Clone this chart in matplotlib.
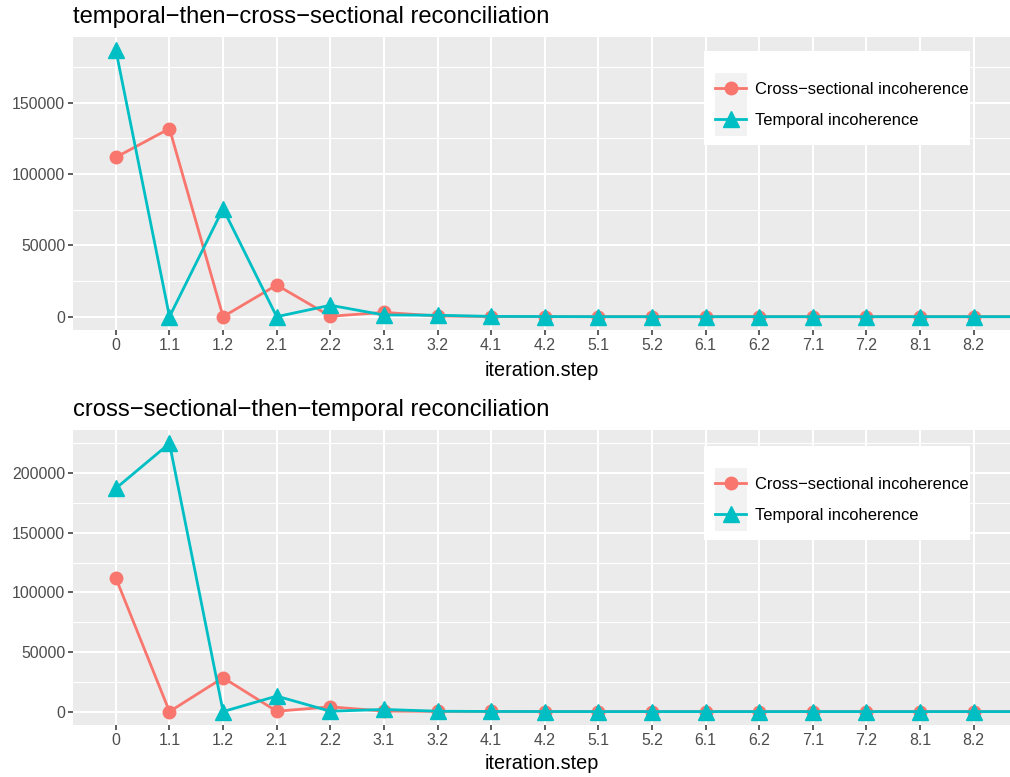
import matplotlib
matplotlib.use("Agg")
import matplotlib.pyplot as plt
from matplotlib.ticker import FixedLocator, FuncFormatter
from matplotlib.patches import Rectangle
from matplotlib.lines import Line2D

plt.rcParams['font.family'] = ['Liberation Sans', 'DejaVu Sans']

# iteration steps (last one runs off the right edge of the panel)
steps = ["0", "1.1", "1.2", "2.1", "2.2", "3.1", "3.2", "4.1", "4.2",
         "5.1", "5.2", "6.1", "6.2", "7.1", "7.2", "8.1", "8.2", "9.1"]

# temporal-then-cross-sectional
tcs_cross = [111800, 131900, 0, 22200, 300, 3000, 500, 100, 50,
             0, 0, 0, 0, 0, 0, 0, 0, 0]
tcs_temp = [186800, 0, 75700, 0, 8000, 1200, 1000, 200, 100,
            0, 0, 0, 0, 0, 0, 0, 0, 0]

# cross-sectional-then-temporal
cst_cross = [112000, 0, 28400, 300, 4000, 400, 200, 100, 50,
             0, 0, 0, 0, 0, 0, 0, 0, 0]
cst_temp = [187300, 225000, 0, 13000, 300, 1800, 300, 100, 50,
            0, 0, 0, 0, 0, 0, 0, 0, 0]

titles = ["temporal\u2212then\u2212cross\u2212sectional reconciliation",
          "cross\u2212sectional\u2212then\u2212temporal reconciliation"]
yticks_top = [0, 50000, 100000, 150000]
yticks_bot = [0, 50000, 100000, 150000, 200000]
labels = ["Cross\u2212sectional incoherence", "Temporal incoherence"]

RED = "#F8766D"
CYAN = "#00BFC4"
W, H = 1010, 777

fig = plt.figure(figsize=(W / 100, H / 100), dpi=100)


def panel(top_px, bot_px, cross, temp, title, yticks, leg_top_px, leg_bot_px, xlab_pad):
    ax = fig.add_axes([73 / W, 1 - bot_px / H, (W - 73) / W, (bot_px - top_px) / H])
    ax.set_facecolor("#EBEBEB")
    x = list(range(len(steps)))
    ax.plot(x, cross, color=RED, lw=2.0, marker="o", ms=9, zorder=3)
    ax.plot(x, temp, color=CYAN, lw=2.0, marker="^", ms=12, zorder=4)

    ymax = max(max(cross), max(temp))
    pad = ymax * 0.05
    ax.set_ylim(-pad, ymax + pad)
    ax.set_xlim(-0.8, (W - 116) / 53.6)

    ax.xaxis.set_major_locator(FixedLocator(x))
    ax.set_xticklabels(steps)
    ax.yaxis.set_major_locator(FixedLocator(yticks))
    minors = [v + 25000 for v in yticks]
    ax.yaxis.set_minor_locator(FixedLocator(minors))
    ax.yaxis.set_major_formatter(FuncFormatter(lambda v, p: "%d" % v))

    ax.grid(True, which="major", color="white", lw=1.5, zorder=0)
    ax.grid(True, which="minor", axis="y", color="white", lw=0.8, zorder=0)
    ax.set_axisbelow(True)
    for s in ax.spines.values():
        s.set_visible(False)
    ax.tick_params(which="major", length=3.5, width=1.1, color="#333333",
                   labelcolor="#4D4D4D", labelsize=11.4, pad=2)
    ax.tick_params(which="minor", length=0)

    ax.set_xlabel("iteration.step", fontsize=14.3, labelpad=xlab_pad)
    ax.set_title(title, loc="left", fontsize=17.1, pad=10)

    # legend box
    h = bot_px - top_px
    bx0 = (704 - 73) / (W - 73)
    bx1 = (970 - 73) / (W - 73)
    by0 = (bot_px - leg_bot_px) / h
    by1 = (bot_px - leg_top_px) / h
    ax.add_patch(Rectangle((bx0, by0), bx1 - bx0, by1 - by0, transform=ax.transAxes,
                           facecolor="white", edgecolor="none", zorder=5))
    kx0 = (715 - 73) / (W - 73)
    kx1 = (747 - 73) / (W - 73)
    ky0 = (bot_px - (leg_top_px + 22)) / h
    ky1 = (bot_px - (leg_top_px + 85)) / h
    ax.add_patch(Rectangle((kx0, ky1), kx1 - kx0, ky0 - ky1, transform=ax.transAxes,
                           facecolor="#F2F2F2", edgecolor="none", zorder=5))
    handles = [Line2D([], [], color=RED, lw=2.0, marker="o", ms=9),
               Line2D([], [], color=CYAN, lw=2.0, marker="^", ms=12)]
    leg = ax.legend(handles, labels, loc="upper left",
                    bbox_to_anchor=(kx0, (bot_px - (leg_top_px + 31)) / h),
                    frameon=False, fontsize=11.9, handlelength=1.9,
                    handletextpad=0.55, labelspacing=0.95, borderpad=0,
                    borderaxespad=0)
    leg.set_zorder(6)
    return ax


panel(37, 330, tcs_cross, tcs_temp, titles[0], yticks_top, 51, 145, 6)
panel(430, 725, cst_cross, cst_temp, titles[1], yticks_bot, 446, 540, 4.5)

fig.savefig("out.png", dpi=100)
